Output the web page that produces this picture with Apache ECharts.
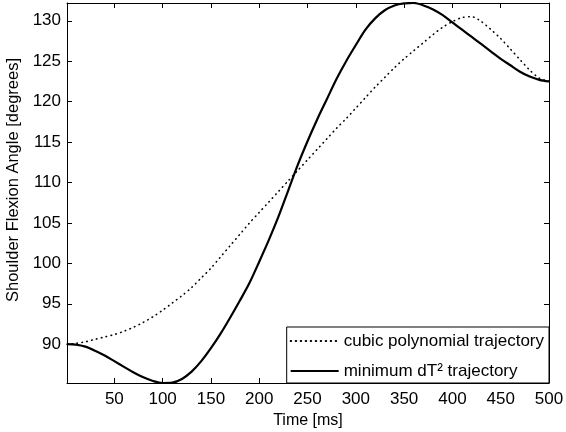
<!DOCTYPE html>
<html>
<head>
<meta charset="utf-8">
<script src="https://cdn.jsdelivr.net/npm/echarts@6/dist/echarts.min.js"></script>
<style>html,body{margin:0;padding:0;background:#fff;}#c{width:566px;height:432px;}</style>
</head>
<body>
<div id="c"></div>
<script>
// time samples (ms)
var timeMs = [1,10,20,30,40,50,60,70,80,90,100,110,120,130,140,150,160,170,180,190,200,210,220,230,240,250,260,270,280,290,300,310,320,330,340,350,360,370,380,390,400,410,420,430,440,450,460,470,480,490,500];
// cubic polynomial trajectory (degrees)
var cubicDeg = [90.0,90.1,90.3,90.6,90.9,91.2,91.6,92.1,92.7,93.4,94.2,95.1,96.0,97.0,98.2,99.4,100.8,102.2,103.6,105.0,106.3,107.6,108.9,110.2,111.5,112.8,114.1,115.4,116.7,117.9,119.2,120.5,121.8,123.0,124.2,125.3,126.3,127.3,128.3,129.2,129.9,130.4,130.5,129.9,128.9,127.8,126.5,125.2,123.9,122.9,122.5];
// minimum dT^2 trajectory (degrees)
var minDT2Deg = [90.0,89.95,89.7,89.2,88.6,87.9,87.2,86.5,85.9,85.45,85.2,85.25,85.7,86.6,87.9,89.5,91.3,93.3,95.4,97.6,100.2,102.9,105.8,109.0,112.2,115.1,117.8,120.3,122.8,125.0,127.0,128.9,130.3,131.3,131.9,132.15,132.2,131.9,131.4,130.7,129.8,128.9,128.0,127.1,126.2,125.3,124.5,123.7,123.1,122.7,122.5];
var xTicks = [50,100,150,200,250,300,350,400,450,500];
var yTicks = [90,95,100,105,110,115,120,125,130];
var seriesNames = ['cubic polynomial trajectory', 'minimum dT\u00b2 trajectory'];

function pairs(xs, ys){ return xs.map(function(x,i){ return [x, ys[i]]; }); }

var font = 'Liberation Sans, Arial, Helvetica, sans-serif';
var axisCommon = {
  type: 'value',
  axisLine: { show: true, onZero: false, lineStyle: { color: '#000', width: 1 } },
  axisTick: { show: true, inside: true, length: 5, lineStyle: { color: '#000' } },
  splitLine: { show: false }
};

var chart = echarts.init(document.getElementById('c'), null, { renderer: 'canvas' });
chart.setOption({
  animation: false,
  backgroundColor: '#fff',
  grid: { left: 67, right: 17, top: 3, bottom: 49, containLabel: false, outerBoundsMode: 'none' },
  xAxis: [
    Object.assign({}, axisCommon, {
      position: 'bottom', min: 1, max: 500,
      axisTick: Object.assign({}, axisCommon.axisTick, { customValues: xTicks }),
      axisLabel: { customValues: xTicks, margin: 8, fontSize: 17, color: '#000', fontFamily: font },
      name: 'Time [ms]', nameLocation: 'middle', nameGap: 28,
      nameTextStyle: { fontSize: 16, color: '#000', fontFamily: font }
    }),
    Object.assign({}, axisCommon, {
      position: 'top', min: 1, max: 500,
      axisTick: Object.assign({}, axisCommon.axisTick, { customValues: xTicks }),
      axisLabel: { show: false }
    })
  ],
  yAxis: [
    Object.assign({}, axisCommon, {
      position: 'left', min: 85.2, max: 132.2,
      axisTick: Object.assign({}, axisCommon.axisTick, { customValues: yTicks }),
      axisLabel: { customValues: yTicks, margin: 6, fontSize: 17, color: '#000', fontFamily: font },
      name: 'Shoulder Flexion Angle [degrees]', nameLocation: 'middle', nameGap: 44,
      nameTextStyle: { fontSize: 16.5, color: '#000', fontFamily: font, padding: [0, 0, 0, 26] }
    }),
    Object.assign({}, axisCommon, {
      position: 'right', min: 85.2, max: 132.2,
      axisTick: Object.assign({}, axisCommon.axisTick, { customValues: yTicks }),
      axisLabel: { show: false }
    })
  ],
  legend: {
    right: 17, top: 327, orient: 'vertical', align: 'left',
    backgroundColor: '#fff', borderColor: '#000', borderWidth: 1, borderRadius: 0,
    padding: [4, 5, 2, 3], itemGap: 10, itemWidth: 48, itemHeight: 14,
    selectedMode: false,
    itemStyle: { opacity: 0, borderWidth: 0 },
    textStyle: { fontSize: 17, color: '#000', fontFamily: font, lineHeight: 20 },
    data: seriesNames
  },
  series: [
    {
      name: seriesNames[0], type: 'line', xAxisIndex: 0, yAxisIndex: 0,
      data: pairs(timeMs, cubicDeg), smooth: 0.3, symbol: 'none', showSymbol: false,
      lineStyle: { color: '#000', width: 1.6, type: [0.5, 4.5], cap: 'round' },
      itemStyle: { color: '#000' }, z: 2
    },
    {
      name: seriesNames[1], type: 'line', xAxisIndex: 0, yAxisIndex: 0,
      data: pairs(timeMs, minDT2Deg), smooth: 0.3, symbol: 'none', showSymbol: false,
      lineStyle: { color: '#000', width: 2.2, type: 'solid' },
      itemStyle: { color: '#000' }, z: 3
    }
  ]
});
</script>
</body>
</html>
